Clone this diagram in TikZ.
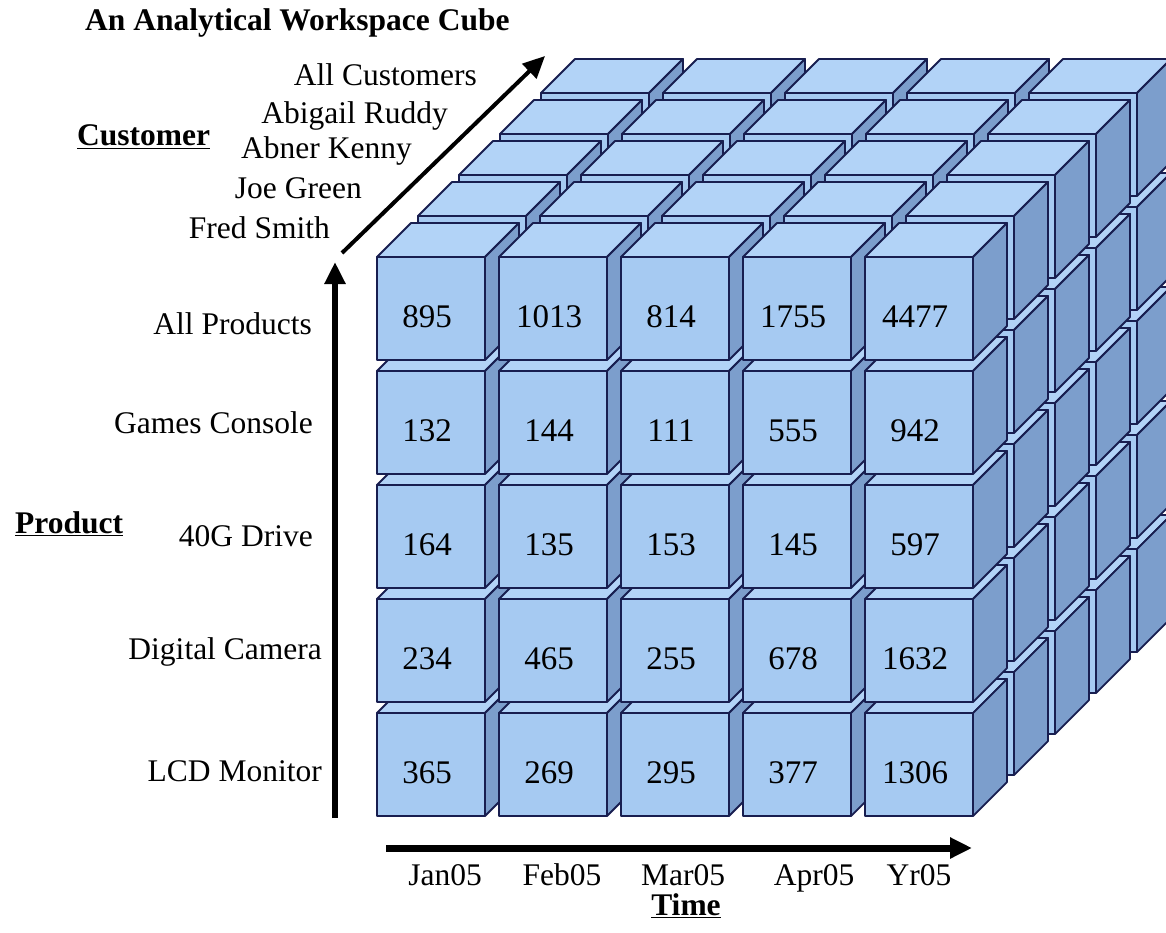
\documentclass[tikz,border=0pt]{standalone}
\usepackage{fontspec}
\setmainfont{Liberation Serif}
\usetikzlibrary{arrows.meta}

\definecolor{cellfront}{RGB}{166,202,242}
\definecolor{celltop}{RGB}{178,211,247}
\definecolor{cellside}{RGB}{124,158,204}
\definecolor{celledge}{RGB}{24,30,80}

% cube sizes and pitches (pixels)
\def\cellw{108}
\def\cellh{103}
\def\celld{34}

\tikzset{
  cellface/.style={draw=celledge, line width=1.8pt, line join=round},
  lbl/.style={inner sep=0pt, font=\fontsize{31.5}{38}\selectfont},
  head/.style={inner sep=0pt, font=\fontsize{31.5}{38}\selectfont\bfseries},
  val/.style={inner sep=0pt, anchor=base, font=\fontsize{33}{40}\selectfont},
  axisline/.style={line width=#1, -{Triangle[length=22pt,width=20pt]}},
}

\begin{document}
\begin{tikzpicture}[x=1pt, y=-1pt]
  \useasboundingbox (0,0) rectangle (1166,933);
  \clip (0,0) rectangle (1166,933);

  %%%%% CUBE %%%%%
  \foreach \k in {4,3,2,1,0}{
    \foreach \i in {0,...,4}{
      \foreach \j in {4,3,2,1,0}{
        \pgfmathsetmacro\X{377+122*\i+41*\k}
        \pgfmathsetmacro\Y{257+114*\j-41*\k}
        \draw[cellface, fill=celltop] (\X,\Y) -- ++(\cellw,0) -- ++(\celld,-\celld) -- ++(-\cellw,0) -- cycle;
        \draw[cellface, fill=cellside] (\X+\cellw,\Y) -- ++(\celld,-\celld) -- ++(0,\cellh) -- ++(-\celld,\celld) -- cycle;
        \draw[cellface, fill=cellfront] (\X,\Y) rectangle ++(\cellw,\cellh);
      }
    }
  }

  % values on the front layer
  \foreach \v [count=\n from 0] in {895,1013,814,1755,4477,
                                    132,144,111,555,942,
                                    164,135,153,145,597,
                                    234,465,255,678,1632,
                                    365,269,295,377,1306}{
    \pgfmathtruncatemacro\i{mod(\n,5)}
    \pgfmathtruncatemacro\j{int(\n/5)}
    \node[val] (val\n) at (377+122*\i+50, 257+114*\j+70) {\v};
  }

  %%%%% LABELS %%%%%
  \node[head, anchor=base west] (title) at (85,31) {An Analytical Workspace Cube};

  \node[head, anchor=base west] (custaxis) at (77,146) {\underline{Customer}};
  \node[lbl, anchor=base east] (cust5) at (477,86) {All Customers};
  \node[lbl, anchor=base east] (cust4) at (448,124) {Abigail Ruddy};
  \node[lbl, anchor=base east] (cust3) at (412,159) {Abner Kenny};
  \node[lbl, anchor=base east] (cust2) at (362,199) {Joe Green};
  \node[lbl, anchor=base east] (cust1) at (330,239) {Fred Smith};

  \node[head, anchor=base west] (prodaxis) at (15,533) {\underline{Product}};
  \node[lbl, anchor=base east] (prod5) at (312,334) {All Products};
  \node[lbl, anchor=base east] (prod4) at (313,433) {Games Console};
  \node[lbl, anchor=base east] (prod3) at (313,546) {40G Drive};
  \node[lbl, anchor=base east] (prod2) at (322,659) {Digital Camera};
  \node[lbl, anchor=base east] (prod1) at (322,781) {LCD Monitor};

  \node[lbl, anchor=base] (time1) at (445,885) {Jan05};
  \node[lbl, anchor=base] (time2) at (562,885) {Feb05};
  \node[lbl, anchor=base] (time3) at (683,885) {Mar05};
  \node[lbl, anchor=base] (time4) at (814,885) {Apr05};
  \node[lbl, anchor=base] (time5) at (919,885) {Yr05};
  \node[head, anchor=base] (timeaxis) at (686,915) {\underline{Time}};

  %%%%% AXES %%%%%
  \coordinate (custtail) at (342,253);
  \coordinate (custhead) at (545,56);
  \coordinate (prodtail) at (335,818);
  \coordinate (prodhead) at (335,262);
  \coordinate (timetail) at (386,848);
  \coordinate (timehead) at (972,848);

  \draw[axisline=4pt] (custtail) -- (custhead);
  \draw[axisline=6pt] (prodtail) -- (prodhead);
  \draw[axisline=7pt] (timetail) -- (timehead);
\end{tikzpicture}
\end{document}
